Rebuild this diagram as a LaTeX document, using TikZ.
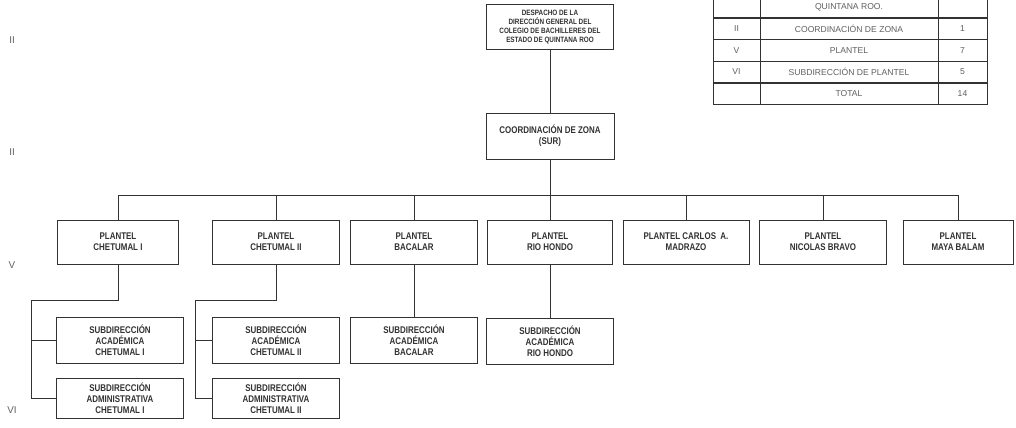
\documentclass[tikz,border=0pt]{standalone}
\usepackage{fontspec}
\setmainfont{Liberation Sans}
\newfontfamily\narrowfont[FakeStretch=0.82]{Liberation Sans}
\usepackage{tikz}
\usetikzlibrary{positioning,calc}

\definecolor{inkgray}{RGB}{50,50,50}
\definecolor{tablegray}{RGB}{95,95,95}

\begin{document}
\begin{tikzpicture}[x=0.025cm,y=-0.025cm,
    unit/.style={draw=inkgray,line width=0.7pt,align=center,text=inkgray,
        font=\narrowfont\bfseries\fontsize{6.9}{8}\selectfont,
        inner sep=1pt,minimum width=3.175cm},
    plantelbox/.style={unit,minimum height=1.1cm},
    subbox/.style={unit,minimum height=1.15cm},
    cell/.style={draw=inkgray,line width=0.6pt,text=tablegray,
        font=\fontsize{6.1}{7}\selectfont,
        minimum height=0.545cm,inner sep=0pt},
    link/.style={draw=inkgray,line width=0.6pt},
    level/.style={text=tablegray,font=\fontsize{7}{8}\selectfont}]
    \useasboundingbox (0,0) rectangle (1016,427);
    \clip (0,0) rectangle (1016,427);
    \fill[white] (0,0) rectangle (1016,427);

    % levels
    \node[level] (lvtop) at (12,40) {II};
    \node[level] (lvcoord) at (12,152) {II};
    \node[level] (lvplantel) at (12,265) {V};
    \node[level] (lvsub) at (12,410) {VI};

    % head and zone
    \node[unit,minimum height=1.125cm,line width=0.9pt,
        font=\narrowfont\bfseries\fontsize{5.5}{6.3}\selectfont] (despacho) at (550,27)
        {DESPACHO DE LA\\DIRECCIÓN GENERAL DEL\\COLEGIO DE BACHILLERES DEL\\ESTADO DE QUINTANA ROO};
    \node[unit,minimum height=1.15cm,minimum width=3.2cm] (coord) at (550,136)
        {COORDINACIÓN DE ZONA\\(SUR)};

    % planteles
    \node[plantelbox,minimum width=3.025cm] (chet1) at (118,242) {PLANTEL\\CHETUMAL I};
    \node[plantelbox] (chet2) at (276,242) {PLANTEL\\CHETUMAL II};
    \node[plantelbox,minimum width=3.15cm] (bacalar) at (414,242) {PLANTEL\\BACALAR};
    \node[plantelbox,minimum width=3.125cm] (riohondo) at (550,242) {PLANTEL\\RIO HONDO};
    \node[plantelbox,minimum width=3.15cm] (madrazo) at (686,242) {PLANTEL CARLOS\ \ A.\\MADRAZO};
    \node[plantelbox] (bravo) at (823,242) {PLANTEL\\NICOLAS BRAVO};
    \node[plantelbox,minimum width=2.75cm] (balam) at (958,242) {PLANTEL\\MAYA BALAM};

    % subdirecciones
    \node[subbox] (acad1) at (120,340) {SUBDIRECCIÓN\\ACADÉMICA\\CHETUMAL I};
    \node[subbox,minimum height=1.0cm] (admin1) at (120,398) {SUBDIRECCIÓN\\ADMINISTRATIVA\\CHETUMAL I};
    \node[subbox] (acad2) at (276,340) {SUBDIRECCIÓN\\ACADÉMICA\\CHETUMAL II};
    \node[subbox,minimum height=1.0cm] (admin2) at (276,398) {SUBDIRECCIÓN\\ADMINISTRATIVA\\CHETUMAL II};
    \node[subbox] (acad3) at (414,340) {SUBDIRECCIÓN\\ACADÉMICA\\BACALAR};
    \node[subbox] (acad4) at (550,341) {SUBDIRECCIÓN\\ACADÉMICA\\RIO HONDO};

    % connectors
    \coordinate (bus) at (550,195);
    \coordinate (knee1) at (31,300);
    \coordinate (knee2) at (195,300);
    \draw[link] (despacho) -- (coord);
    \draw[link] (coord) -- (bus);
    \draw[link] (chet1.north |- bus) -- (balam.north |- bus);
    \foreach \p in {chet1,chet2,bacalar,riohondo,madrazo,bravo,balam}
        \draw[link] (\p.north |- bus) -- (\p.north);
    \draw[link] (chet1.south) |- (knee1) |- (admin1.west);
    \draw[link] (knee1 |- acad1.west) -- (acad1.west);
    \draw[link] (chet2.south) |- (knee2) |- (admin2.west);
    \draw[link] (knee2 |- acad2.west) -- (acad2.west);
    \draw[link] (bacalar) -- (acad3);
    \draw[link] (riohondo) -- (acad4);

    % summary table
    \foreach \y/\lv/\nm/\n [count=\r] in {7/{}/{QUINTANA ROO.}/{},
        29/II/{COORDINACIÓN DE ZONA}/1, 50.5/V/PLANTEL/7,
        72/VI/{SUBDIRECCIÓN DE PLANTEL}/5, 94/{}/TOTAL/14} {
        \node[cell,minimum width=1.175cm] (lv\r) at (736.5,\y) {\lv};
        \node[cell,minimum width=4.45cm] (nm\r) at (849,\y) {\nm};
        \node[cell,minimum width=1.225cm] (num\r) at (962.5,\y) {\n};
    }
\end{tikzpicture}
\end{document}
